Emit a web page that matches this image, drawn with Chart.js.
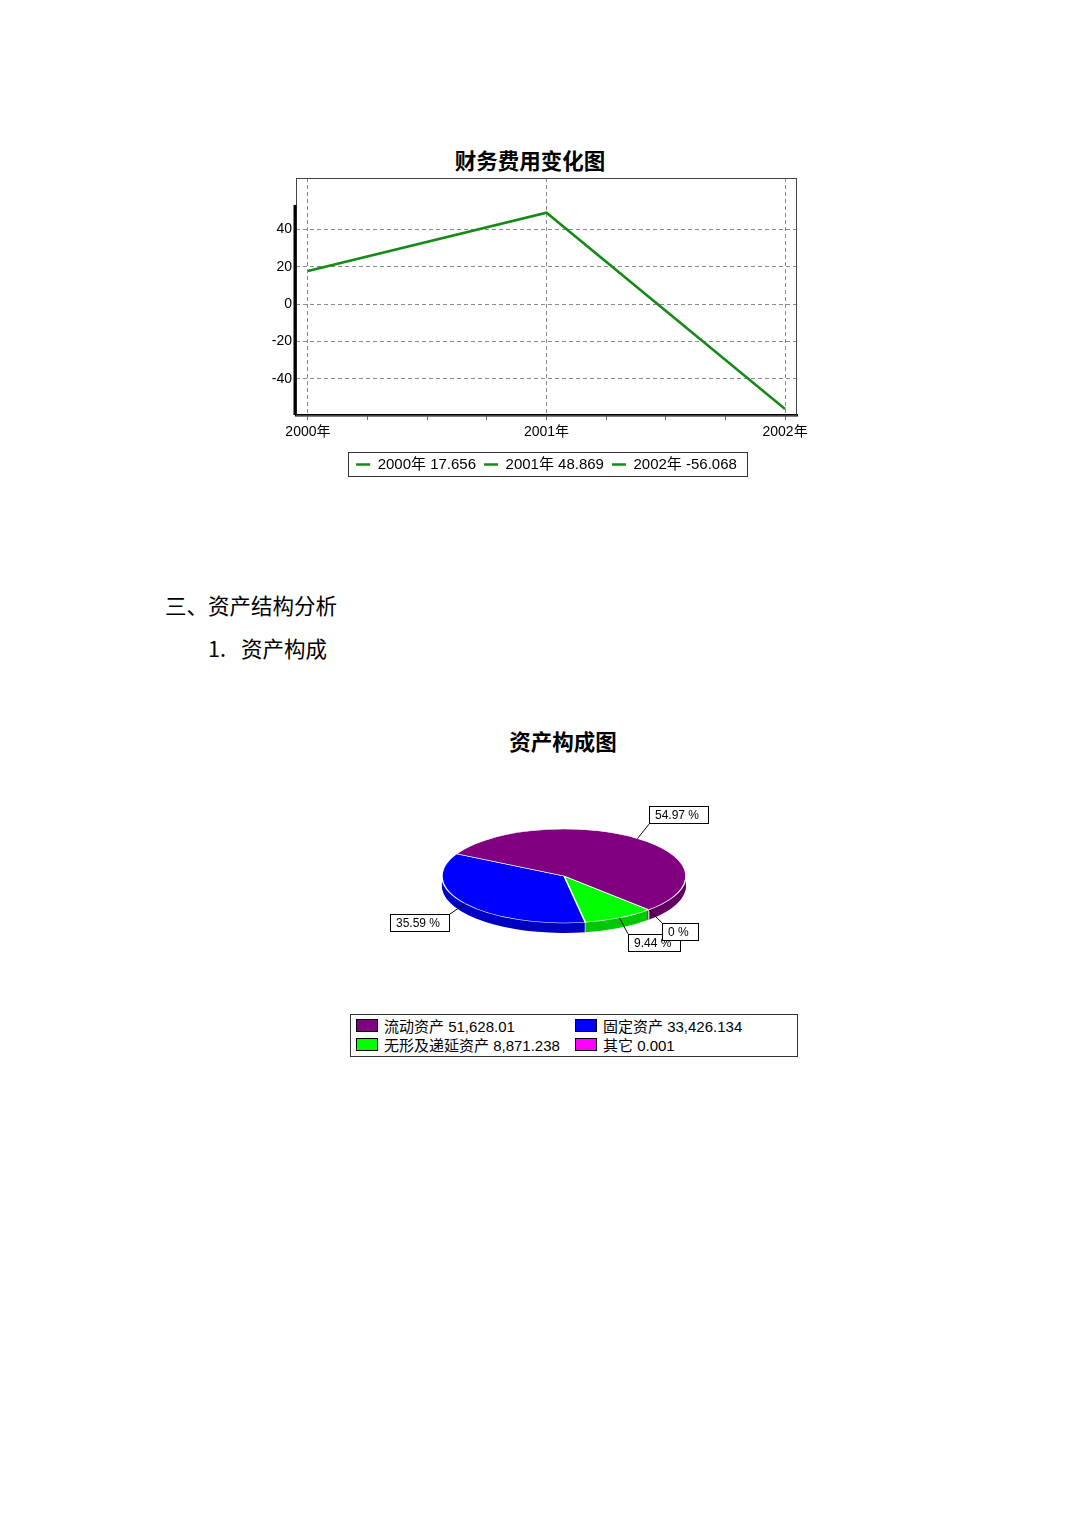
<!DOCTYPE html>
<html>
<head>
<meta charset="utf-8">
<script src="https://cdn.jsdelivr.net/npm/chart.js@4.4.1/dist/chart.umd.min.js"></script>
<style>
html, body { margin: 0; padding: 0; background: #fff; }
body { width: 1080px; height: 1528px; position: relative; overflow: hidden; color: #000;
  font-family: "Liberation Sans", "Noto Sans CJK SC", sans-serif; }
.abs { position: absolute; }
.ctitle { font-family: "Noto Sans CJK SC", sans-serif; font-weight: bold; font-size: 21.5px; line-height: 1;
  white-space: nowrap; transform: translate(-50%, -50%); }
.head { font-family: "Noto Sans CJK SC", sans-serif; font-size: 21.5px; line-height: 1; white-space: nowrap;
  transform: translateY(-50%); }
#pieLegend { left: 350px; top: 1014px; width: 446px; height: 41px; border: 1px solid #333;
  font-size: 15px; box-sizing: content-box; }
#pieLegend .item { position: absolute; display: flex; align-items: center; white-space: nowrap; height: 18px; }
#pieLegend .sw { width: 20px; height: 11px; border: 1px solid #000; margin-right: 6px; }
</style>
</head>
<body>

<div class="abs ctitle" style="left:530px; top:160px;">财务费用变化图</div>
<canvas id="lineChart" class="abs" style="left:246px; top:140px;" width="600" height="350"></canvas>

<div class="abs head" style="left:165px; top:605px;">三、资产结构分析</div>
<div class="abs head" style="left:208px; top:648px;">1.<span style="margin-left:15px;">资产构成</span></div>

<div class="abs ctitle" style="left:563px; top:741px;">资产构成图</div>
<canvas id="pieChart" class="abs" style="left:334px; top:776px;" width="460" height="200"></canvas>
<div id="pieLegend" class="abs"></div>

<script>
// 财务费用变化图
const years = ['2000年', '2001年', '2002年'];
const fees = [17.656, 48.869, -56.068];
const feeTicks = [-40, -20, 0, 20, 40];

// 资产构成图
const assetNames = ['流动资产', '固定资产', '无形及递延资产', '其它'];
const assetValues = [51628.01, 33426.134, 8871.238, 0.001];
const assetLabels = ['51,628.01', '33,426.134', '8,871.238', '0.001'];

const FONT = '"Liberation Sans", "Noto Sans CJK SC", sans-serif';
const lineColor = '#168a16';

// box around plot area + thick left axis + frame round the legend
const plotFrame = {
  id: 'plotFrame',
  beforeDatasetsDraw(chart) {
    const {ctx, chartArea: a, scales} = chart;
    ctx.save();
    ctx.strokeStyle = '#444';
    ctx.lineWidth = 1;
    ctx.strokeRect(a.left + 0.5, a.top + 0.5, a.right - a.left - 1, a.bottom - a.top);
    ctx.strokeStyle = '#000';
    ctx.lineWidth = 3;
    ctx.beginPath();
    ctx.moveTo(a.left - 1, scales.y.getPixelForValue(53));
    ctx.lineTo(a.left - 1, a.bottom);
    ctx.stroke();
    ctx.restore();
  },
  afterDraw(chart) {
    const boxes = chart.legend.legendHitBoxes;
    if (!boxes || !boxes.length) return;
    const l = Math.min(...boxes.map(b => b.left)), r = Math.max(...boxes.map(b => b.left + b.width));
    const t = Math.min(...boxes.map(b => b.top)), btm = Math.max(...boxes.map(b => b.top + b.height));
    const ctx = chart.ctx;
    ctx.save();
    ctx.strokeStyle = '#333';
    ctx.lineWidth = 1;
    ctx.strokeRect(Math.round(l - 8) + 0.5, Math.round(t - 5) + 0.5, Math.round(r - l + 18), Math.round(btm - t + 9));
    ctx.restore();
  }
};

new Chart(document.getElementById('lineChart'), {
  type: 'line',
  data: {
    datasets: [{
      data: years.map((y, i) => ({x: i, y: fees[i]})),
      borderColor: lineColor,
      borderWidth: 2.5,
      pointRadius: 0,
      tension: 0
    }]
  },
  options: {
    responsive: false,
    animation: false,
    events: [],
    layout: {padding: {top: 38, right: 49, left: 0, bottom: 8}},
    scales: {
      x: {
        type: 'linear',
        min: -0.05,
        max: 2.05,
        afterBuildTicks: s => { s.ticks = [0, 1, 2, 3, 4, 5, 6, 7, 8].map(k => ({value: k / 4})); },
        afterFit: s => { s.height = 34; },
        ticks: {
          autoSkip: false, maxRotation: 0, padding: 4, color: '#000',
          font: {family: FONT, size: 14},
          callback: v => Number.isInteger(v) ? years[v] : ''
        },
        grid: {
          color: c => (c.tick && Number.isInteger(c.tick.value)) ? '#8a8a8a' : 'rgba(0,0,0,0)',
          tickColor: '#666', tickLength: 5, lineWidth: 1
        },
        border: {display: true, color: '#000', width: 2.5, dash: [4, 3]}
      },
      y: {
        min: -59.3,
        max: 67.4,
        afterBuildTicks: s => { s.ticks = feeTicks.map(v => ({value: v})); },
        afterFit: s => { s.width = 50; },
        ticks: {padding: 4, color: '#000', font: {family: FONT, size: 14}},
        grid: {color: '#8a8a8a', drawTicks: false, lineWidth: 1},
        border: {display: false, dash: [4, 3]}
      }
    },
    plugins: {
      tooltip: {enabled: false},
      legend: {
        position: 'bottom',
        fullSize: false,
        onClick: null,
        labels: {
          usePointStyle: true,
          pointStyleWidth: 14,
          boxHeight: 15,
          padding: 8,
          color: '#000',
          font: {family: FONT, size: 15},
          generateLabels: () => years.map((y, i) => ({
            text: y + ' ' + fees[i],
            fillStyle: lineColor,
            strokeStyle: lineColor,
            lineWidth: 2.5,
            pointStyle: 'line',
            hidden: false,
            datasetIndex: 0
          }))
        }
      }
    }
  },
  plugins: [plotFrame]
});

// ---------- pie ----------
const assetColors = ['#800080', '#0000ff', '#00ff00', '#ff00ff'];
const sideColors = ['#620062', '#0000c4', '#00c800', '#c000c0'];
const SQUASH = 0.385, DEPTH = 10;
const n = assetNames.length;
const rev = arr => arr.slice().reverse();
const total = assetValues.reduce((a, b) => a + b, 0);

const pie3d = {
  id: 'pie3d',
  beforeDatasetsDraw(chart) {
    const ctx = chart.ctx;
    const arcs = chart.getDatasetMeta(0).data;
    const cx = arcs[0].x, cy = arcs[0].y;
    ctx.save();
    ctx.translate(cx, cy);
    ctx.scale(1, SQUASH);
    ctx.translate(-cx, -cy);
    for (let d = DEPTH; d >= 1; d--) {
      arcs.forEach((a, j) => {
        if (a.endAngle - a.startAngle < 1e-4) return;
        const oy = d / SQUASH;
        ctx.beginPath();
        ctx.moveTo(a.x, a.y + oy);
        ctx.arc(a.x, a.y + oy, a.outerRadius, a.startAngle, a.endAngle);
        ctx.closePath();
        ctx.fillStyle = sideColors[n - 1 - j];
        ctx.fill();
      });
    }
    // seams on the rim
    ctx.strokeStyle = '#e8e8ff';
    ctx.lineWidth = 1;
    arcs.forEach(a => {
      const s = Math.sin(a.startAngle);
      if (s <= 0.05) return;
      const px = a.x + a.outerRadius * Math.cos(a.startAngle);
      const py = a.y + a.outerRadius * s;
      ctx.beginPath();
      ctx.moveTo(px, py);
      ctx.lineTo(px, py + DEPTH / SQUASH);
      ctx.stroke();
    });
  },
  afterDatasetsDraw(chart) {
    const ctx = chart.ctx;
    ctx.restore();
    const arcs = chart.getDatasetMeta(0).data;
    ctx.save();
    ctx.font = '12px ' + FONT;
    ctx.textBaseline = 'middle';
    for (let k = 0; k < n; k++) {
      const a = arcs[n - 1 - k];
      const mid = (a.startAngle + a.endAngle) / 2;
      const c = Math.cos(mid), s = Math.sin(mid);
      const ex = a.x + a.outerRadius * c, ey = a.y + a.outerRadius * SQUASH * s;
      const tx = ex + c * 19, ty = ey + s * 18;
      const txt = (+(assetValues[k] / total * 100).toFixed(2)) + ' %';
      const w = Math.round(ctx.measureText(txt).width + 16), h = 18;
      const bx = Math.round(c >= 0 ? tx : tx - w);
      const by = Math.round(s >= 0 ? ty : ty - h);
      ctx.strokeStyle = '#000';
      ctx.lineWidth = 1;
      ctx.beginPath();
      ctx.moveTo(ex, ey);
      ctx.lineTo(tx, ty);
      ctx.stroke();
      ctx.fillStyle = '#fff';
      ctx.fillRect(bx, by, w, h);
      ctx.strokeRect(bx + 0.5, by + 0.5, w - 1, h - 1);
      ctx.fillStyle = '#000';
      ctx.fillText(txt, bx + 6, by + h / 2 + 0.5);
    }
    ctx.restore();
  }
};

new Chart(document.getElementById('pieChart'), {
  type: 'pie',
  data: {
    labels: rev(assetNames),
    datasets: [{
      data: rev(assetValues),
      backgroundColor: rev(assetColors),
      borderColor: '#ffffff',
      borderWidth: 1.5
    }]
  },
  options: {
    responsive: false,
    animation: false,
    events: [],
    radius: 122,
    rotation: 136,
    layout: {padding: 0},
    plugins: {legend: {display: false}, tooltip: {enabled: false}}
  },
  plugins: [pie3d]
});

// legend for the pie, two columns
const legendBox = document.getElementById('pieLegend');
assetNames.forEach((name, i) => {
  const it = document.createElement('div');
  it.className = 'item';
  it.style.left = (5 + (i % 2) * 219) + 'px';
  it.style.top = (1 + Math.floor(i / 2) * 19) + 'px';
  const sw = document.createElement('span');
  sw.className = 'sw';
  sw.style.background = assetColors[i];
  const tx = document.createElement('span');
  tx.textContent = name + ' ' + assetLabels[i];
  it.appendChild(sw);
  it.appendChild(tx);
  legendBox.appendChild(it);
});
</script>
</body>
</html>
